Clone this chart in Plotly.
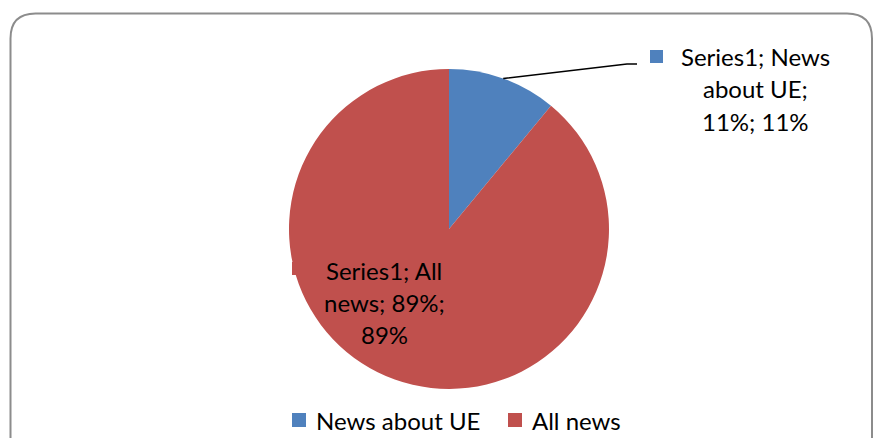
import math
import plotly.graph_objects as go

categories = ["News about UE", "All news"]
values = [11, 89]
series_name = "Series1"
colors = ["#4F81BD", "#C0504D"]

W, H = 876, 438
FONT = "Lato"
FS = 24

# pie geometry (pixels)
cx, cy, R = 449, 229, 160

fig = go.Figure(go.Pie(
    labels=categories, values=values, sort=False, direction="clockwise",
    rotation=0, textinfo="none", hoverinfo="label+percent", showlegend=False,
    marker=dict(colors=colors, line=dict(width=0)),
    domain=dict(x=[(cx - R) / W, (cx + R) / W], y=[1 - (cy + R) / H, 1 - (cy - R) / H]),
))

def px(x):
    return x / W

def py(y):
    return 1 - y / H

total = sum(values)
pcts = [round(v / total * 100) for v in values]
label_lines = [
    [f"{series_name}; News", "about UE;", f"{pcts[0]}%; {pcts[0]}%"],
    [f"{series_name}; All", f"news; {pcts[1]}%;", f"{pcts[1]}%"],
]

annotations = []
shapes = []
txtfont = dict(family=FONT, size=FS, color="#000000")

# label 1 (outside with leader line)
for i, line in enumerate(label_lines[0]):
    annotations.append(dict(x=px(755), y=py(57 + 32 * i), xref="paper", yref="paper",
                            text=line, showarrow=False, xanchor="center", yanchor="middle",
                            font=txtfont))
shapes.append(dict(type="rect", xref="paper", yref="paper", x0=px(650), x1=px(663),
                   y0=py(63), y1=py(50), fillcolor=colors[0], line=dict(width=0)))
mid = values[0] / total * 360 / 2
ax = cx + R * math.sin(math.radians(mid))
ay = cy - R * math.cos(math.radians(mid))
shapes.append(dict(type="path", xref="paper", yref="paper",
                   path=f"M {px(ax)},{py(ay)} L {px(627)},{py(64)} L {px(637)},{py(64)}",
                   line=dict(color="#000000", width=1.5)))

# label 2 (inside)
shapes.append(dict(type="rect", xref="paper", yref="paper", x0=px(292), x1=px(305),
                   y0=py(275), y1=py(262), fillcolor=colors[1], line=dict(width=0)))
for i, line in enumerate(label_lines[1]):
    annotations.append(dict(x=px(384), y=py(270 + 32 * i), xref="paper", yref="paper",
                            text=line, showarrow=False, xanchor="center", yanchor="middle",
                            font=txtfont))

# legend (manual)
legend_x = [292, 508]
for cat, col, lx in zip(categories, colors, legend_x):
    shapes.append(dict(type="rect", xref="paper", yref="paper", x0=px(lx), x1=px(lx + 14),
                       y0=py(427), y1=py(413), fillcolor=col, line=dict(width=0)))
    annotations.append(dict(x=px(lx + 22), y=py(420), xref="paper", yref="paper",
                            text=cat, showarrow=False, xanchor="left", yanchor="middle",
                            font=txtfont))

# rounded border
x0, x1, y0, y1, r = 10.5, 872, 13.5, 460, 25
p = (f"M {px(x0)},{py(y0 + r)} Q {px(x0)},{py(y0)} {px(x0 + r)},{py(y0)} "
     f"L {px(x1 - r)},{py(y0)} Q {px(x1)},{py(y0)} {px(x1)},{py(y0 + r)} "
     f"L {px(x1)},{py(y1)} L {px(x0)},{py(y1)} Z")
shapes.append(dict(type="path", xref="paper", yref="paper", path=p,
                   line=dict(color="#8C8C8C", width=2), layer="below"))

fig.update_layout(
    width=W, height=H, margin=dict(l=0, r=0, t=0, b=0),
    paper_bgcolor="white", plot_bgcolor="white",
    showlegend=False,
    annotations=annotations, shapes=shapes,
)

fig.write_html("out.html")
